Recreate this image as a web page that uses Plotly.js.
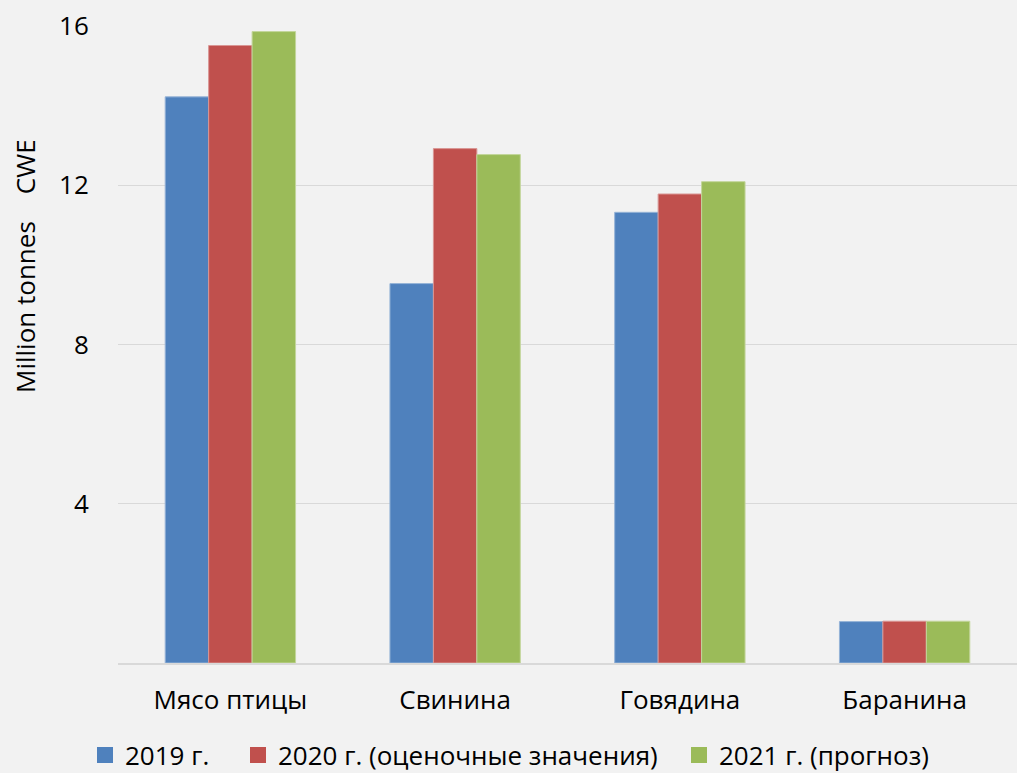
<!DOCTYPE html>
<html>
<head>
<meta charset="utf-8">
<script src="https://cdn.plot.ly/plotly-3.0.1.min.js"></script>
<style>
html,body{margin:0;padding:0;background:#f2f2f2;}
#chart{width:1017px;height:773px;}
</style>
</head>
<body>
<div id="chart"></div>
<script>
var categories = ["Мясо птицы", "Свинина", "Говядина", "Баранина"];
var seriesNames = ["2019 г.", "2020 г. (оценочные значения)", "2021 г. (прогноз)"];
var values2019 = [14.22, 9.53, 11.32, 1.04];
var values2020 = [15.51, 12.92, 11.78, 1.05];
var values2021 = [15.86, 12.77, 12.09, 1.05];
var yTicks = [4, 8, 12, 16];
var yTitle = "Million tonnes\u00a0\u00a0\u00a0\u00a0CWE";
var colors = ["#4f81bd", "#c0504d", "#9bbb59"];
var lineColors = ["#95b3d7", "#d99694", "#c3d69b"];

var allValues = [values2019, values2020, values2021];
var font = "'Open Sans', sans-serif";
var fs = 26;
var legendIds = ["legend", "legend2", "legend3"];
var legendX = [85, 238, 679];

var traces = [];
allValues.forEach(function(v, i){
  traces.push({
    type: "bar",
    x: categories,
    y: v,
    name: seriesNames[i],
    showlegend: false,
    marker: {color: colors[i], line: {color: lineColors[i], width: 1}},
    hoverinfo: "x+y"
  });
});
allValues.forEach(function(v, i){
  traces.push({
    type: "scatter",
    mode: "markers",
    x: [categories[0]],
    y: [null],
    name: seriesNames[i],
    legend: legendIds[i],
    showlegend: true,
    marker: {symbol: "square", size: 16, color: colors[i]},
    hoverinfo: "skip"
  });
});

var layout = {
  width: 1017,
  height: 773,
  paper_bgcolor: "#f2f2f2",
  plot_bgcolor: "#f2f2f2",
  margin: {l: 118, r: 0, t: 26, b: 110},
  barmode: "group",
  bargap: 0.42,
  bargroupgap: 0,
  font: {family: font, size: fs, color: "#000"},
  xaxis: {
    type: "category",
    showgrid: false,
    showline: true,
    linecolor: "#d9d9d9",
    linewidth: 2,
    ticks: "outside",
    ticklen: 13,
    tickcolor: "rgba(0,0,0,0)",
    tickfont: {family: font, size: fs, color: "#000"},
    zeroline: false
  },
  yaxis: {
    range: [0, 16],
    tickvals: yTicks,
    ticktext: yTicks.map(String),
    showgrid: true,
    gridcolor: "#d9d9d9",
    gridwidth: 1,
    zeroline: false,
    showline: false,
    ticks: "outside",
    ticklen: 23,
    tickcolor: "rgba(0,0,0,0)",
    tickfont: {family: font, size: fs, color: "#000"}
  },
  annotations: [{
    text: yTitle,
    xref: "paper",
    yref: "paper",
    x: (25 - 118) / 899,
    y: (663 - 266) / 637,
    xanchor: "center",
    yanchor: "middle",
    textangle: -90,
    showarrow: false,
    font: {family: font, size: fs, color: "#000"}
  }],
  showlegend: true
};

legendIds.forEach(function(id, i){
  layout[id] = {
    orientation: "h",
    xref: "container",
    yref: "container",
    x: legendX[i] / 1017,
    xanchor: "left",
    y: 1 - 755 / 773,
    yanchor: "middle",
    font: {family: font, size: fs, color: "#000"},
    bgcolor: "rgba(0,0,0,0)",
    borderwidth: 0
  };
});

Plotly.newPlot("chart", traces, layout, {displayModeBar: false, staticPlot: true});
</script>
</body>
</html>
